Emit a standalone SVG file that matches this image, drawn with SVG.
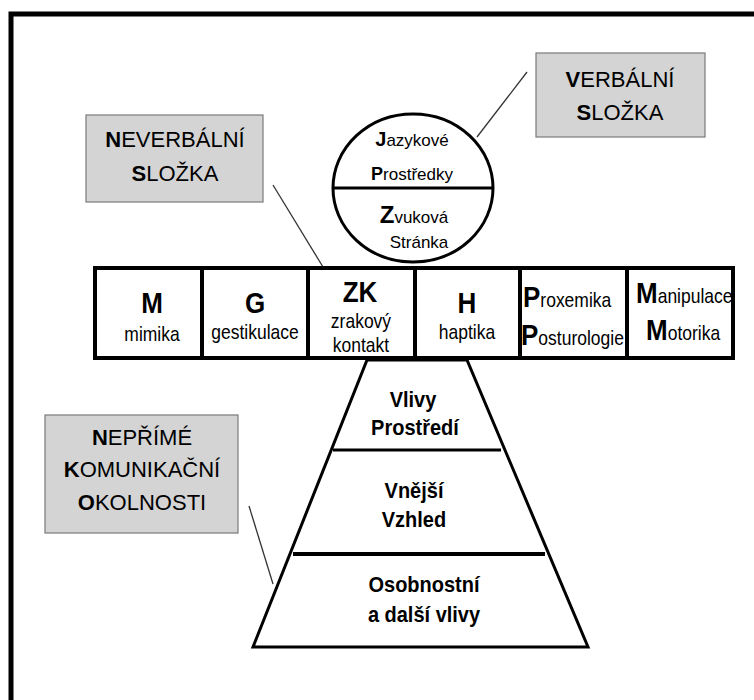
<svg xmlns="http://www.w3.org/2000/svg" width="754" height="700" viewBox="0 0 754 700">
<style>
text{font-family:"Liberation Sans",Arial,sans-serif;fill:#000;text-anchor:middle}
.lbl{font-size:22px}
.c{font-size:17px}
.r{font-size:17.5px}
.big{font-size:26px;font-weight:bold}
.py{font-size:20px;font-weight:bold}
.b{font-weight:bold}
.box{fill:#d4d4d4;stroke:#7a7a7a;stroke-width:1.2}
.lead{stroke:#333;stroke-width:1.3;fill:none}
.thick{stroke:#000;fill:none}
</style>
<rect width="754" height="700" fill="#fff"/>
<path d="M11 705 V14 H760" class="thick" stroke-width="5"/>
<g id="connectors">
<line class="lead" x1="527" y1="72" x2="477" y2="137"/>
<line class="lead" x1="273" y1="185" x2="323" y2="267"/>
<line class="lead" x1="249" y1="506" x2="273" y2="584"/>
</g>
<g id="verbalni">
<rect class="box" x="536" y="53" width="169" height="84"/>
<text class="lbl" x="620" y="87"><tspan class="b">V</tspan>ERBÁLNÍ</text>
<text class="lbl" x="620" y="120"><tspan class="b">S</tspan>LOŽKA</text>
</g>
<g id="neverbalni">
<rect class="box" x="86" y="115" width="177" height="87"/>
<text class="lbl" x="175" y="147"><tspan class="b">N</tspan>EVERBÁLNÍ</text>
<text class="lbl" x="175" y="181"><tspan class="b">S</tspan>LOŽKA</text>
</g>
<g id="neprime">
<rect class="box" x="45" y="415" width="193" height="118"/>
<text class="lbl" x="142" y="445"><tspan class="b">N</tspan>EPŘÍMÉ</text>
<text class="lbl" x="142" y="477"><tspan class="b">K</tspan>OMUNIKAČNÍ</text>
<text class="lbl" x="142" y="510"><tspan class="b">O</tspan>KOLNOSTI</text>
</g>
<g id="circle">
<ellipse cx="413" cy="188" rx="80" ry="74" fill="#fff" stroke="#000" stroke-width="3"/>
<line x1="333" y1="188" x2="493" y2="188" stroke="#000" stroke-width="3"/>
<text class="c" x="412" y="146"><tspan class="b" font-size="20">J</tspan>azykové</text>
<text class="c" x="412" y="180"><tspan class="b" font-size="18">P</tspan>rostředky</text>
<text class="c" x="414" y="223"><tspan class="b" font-size="24">Z</tspan>vuková</text>
<text class="c" x="419" y="248">Stránka</text>
</g>
<g id="row">
<rect x="95" y="268" width="638" height="90" fill="#fff" stroke="#000" stroke-width="4"/>
<path d="M202 268V358M308 268V358M415 268V358M520 268V358M627 268V358" stroke="#000" stroke-width="4"/>
</g>
<g id="cell-m">
<text class="big" x="152" y="313" transform="matrix(1 0 0 1.12 0 -37.56)">M</text>
<text class="r" x="152" y="341" transform="matrix(1 0 0 1.12 0 -40.92)">mimika</text>
</g>
<g id="cell-g">
<text class="big" x="255" y="313" transform="matrix(1 0 0 1.12 0 -37.56)">G</text>
<text class="r" x="255" y="339" transform="matrix(1 0 0 1.12 0 -40.68)">gestikulace</text>
</g>
<g id="cell-zk">
<text class="big" x="360" y="302" transform="matrix(1 0 0 1.12 0 -36.24)">ZK</text>
<text class="r" x="361" y="328" transform="matrix(1 0 0 1.12 0 -39.36)">zrakový</text>
<text class="r" x="361" y="352" transform="matrix(1 0 0 1.12 0 -42.24)">kontakt</text>
</g>
<g id="cell-h">
<text class="big" x="467" y="313" transform="matrix(1 0 0 1.12 0 -37.56)">H</text>
<text class="r" x="467" y="339" transform="matrix(1 0 0 1.12 0 -40.68)">haptika</text>
</g>
<g id="cell-p">
<text class="r" x="523" y="307" style="text-anchor:start" transform="matrix(1 0 0 1.12 0 -36.84)"><tspan class="big">P</tspan>roxemika</text>
<text class="r" x="521" y="345" style="text-anchor:start" transform="matrix(1 0 0 1.12 0 -41.4)"><tspan class="big">P</tspan>osturologie</text>
</g>
<g id="cell-mm">
<text class="r" x="636" y="303" style="text-anchor:start" transform="matrix(1 0 0 1.12 0 -36.36)"><tspan class="big">M</tspan>anipulace</text>
<text class="r" x="646" y="340" style="text-anchor:start" transform="matrix(1 0 0 1.12 0 -40.8)"><tspan class="big">M</tspan>otorika</text>
</g>
<g id="pyramid">
<polygon points="367,360 467,360 588,647 253,647" fill="#fff" stroke="#000" stroke-width="3"/>
<line x1="333" y1="450" x2="501" y2="450" stroke="#000" stroke-width="3"/>
<line x1="293" y1="554" x2="545" y2="554" stroke="#000" stroke-width="4"/>
<text class="py" x="413" y="407" transform="matrix(1 0 0 1.12 0 -48.84)">Vlivy</text>
<text class="py" x="415" y="435" transform="matrix(1 0 0 1.12 0 -52.2)">Prostředí</text>
<text class="py" x="414" y="498" transform="matrix(1 0 0 1.12 0 -59.76)">Vnější</text>
<text class="py" x="414" y="527" transform="matrix(1 0 0 1.12 0 -63.24)">Vzhled</text>
<text class="py" x="424" y="592" transform="matrix(1 0 0 1.12 0 -71.04)">Osobnostní</text>
<text class="py" x="424" y="622" transform="matrix(1 0 0 1.12 0 -74.64)">a další vlivy</text>
</g>
</svg>
